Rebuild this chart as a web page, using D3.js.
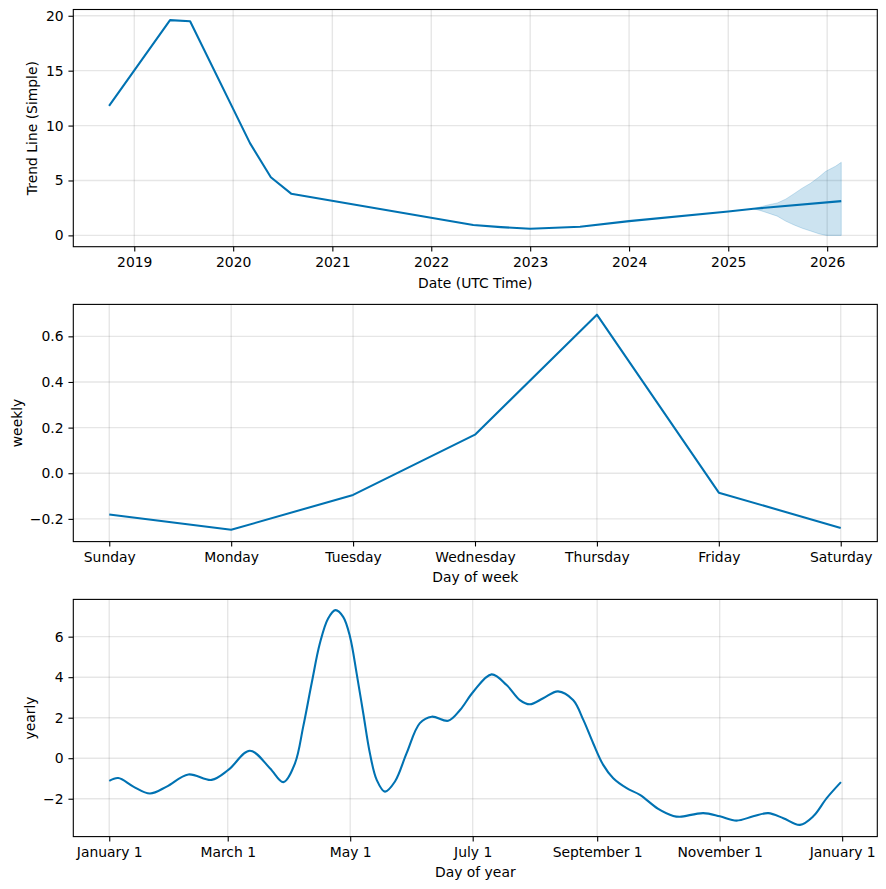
<!DOCTYPE html>
<html><head><meta charset="utf-8">
<script src="https://cdn.jsdelivr.net/npm/d3@7"></script>
<style>body{margin:0;background:#fff}svg{display:block}</style>
</head><body>
<script>
// ---- Data ----
const trendDates = ["2018-09-30","2019-05-13","2019-07-26","2020-03-03","2020-05-19","2020-08-02","2022-06-05","2022-09-15","2023-01-01","2023-07-04","2024-01-01","2025-01-01","2025-04-04","2026-02-22"];
const trendValues = [11.8, 19.6, 19.5, 8.4, 5.3, 3.8, 0.94, 0.75, 0.6, 0.78, 1.3, 2.18, 2.42, 3.12];

const bandDates = ["2025-04-04","2025-05-01","2025-06-01","2025-07-01","2025-08-01","2025-09-01","2025-10-01","2025-11-01","2025-12-01","2025-12-25","2026-01-01","2026-02-01","2026-02-22"];
const bandUpper = [2.42, 2.6, 2.8, 2.95, 3.3, 3.8, 4.3, 4.75, 5.3, 5.8, 5.9, 6.3, 6.65];
const bandLower = [2.42, 2.25, 2.0, 1.75, 1.3, 0.95, 0.65, 0.4, 0.15, 0.02, 0.0, 0.0, 0.0];

const yearTicks = ["2019","2020","2021","2022","2023","2024","2025","2026"];
const trendYTicks = [0, 5, 10, 15, 20];

const weekdays = ["Sunday","Monday","Tuesday","Wednesday","Thursday","Friday","Saturday"];
const weeklyValues = [-0.181, -0.248, -0.095, 0.169, 0.695, -0.085, -0.240];
const weeklyYTicks = [-0.2, 0.0, 0.2, 0.4, 0.6];

const yearlyDays = [0, 4.5, 12, 20.3, 28.6, 39.4, 51, 59.3, 70, 80, 86.7, 92.5, 96.6, 100.8, 104.9, 109, 112.7, 116.5, 119.9, 123.2, 126.5, 129.8, 133.2, 137.3, 142.3, 148.1, 154.7, 160.6, 168.8, 174.7, 181.3, 190.4, 197.9, 204.5, 209.5, 216.1, 223.5, 231, 236.1, 241, 246, 251, 257.7, 264.3, 273.4, 280.9, 284.2, 295.8, 304.1, 312.4, 320.7, 328.2, 335.7, 344, 350.6, 357.3, 364.4];
const yearlyValues = [-1.12, -0.98, -1.40, -1.74, -1.40, -0.80, -1.07, -0.58, 0.37, -0.49, -1.18, -0.25, 1.56, 3.70, 5.67, 6.9, 7.31, 6.98, 6.0, 4.19, 2.22, 0.25, -1.07, -1.65, -1.15, 0.25, 1.73, 2.05, 1.85, 2.38, 3.28, 4.14, 3.61, 2.87, 2.66, 2.96, 3.30, 2.87, 1.89, 0.74, -0.33, -0.99, -1.48, -1.81, -2.5, -2.85, -2.89, -2.71, -2.87, -3.08, -2.87, -2.71, -2.96, -3.29, -2.87, -1.97, -1.18];
const yearlyTickDays = [0, 59, 120, 181, 243, 304, 365];
const yearlyTickLabels = ["January 1","March 1","May 1","July 1","September 1","November 1","January 1"];
const yearlyYTicks = [-2, 0, 2, 4, 6];

// ---- Layout ----
const W = 886, H = 889;
const L = 73.3, R = 877.3;
const PH = 237.2;
const tops = [9.5, 304.4, 599.4];
const FS = 13.9;
const tickLen = 4.86, tickPad = 4.86;
const blue = "#0072B2";

const svg = d3.select("body").append("svg").attr("width", W).attr("height", H)
  .style("font-family", "'DejaVu Sans', sans-serif");

function drawPanel(top, x, y, xTickVals, xFmt, yTickVals, yFmt, xlabel, ylabel, ylabelX, drawData) {
  const g = svg.append("g");
  // grid
  g.append("g").selectAll("line").data(xTickVals).join("line")
    .attr("x1", d => x(d)).attr("x2", d => x(d)).attr("y1", top).attr("y2", top + PH)
    .attr("stroke", "#808080").attr("stroke-opacity", 0.2).attr("stroke-width", 1.39);
  g.append("g").selectAll("line").data(yTickVals).join("line")
    .attr("y1", d => y(d)).attr("y2", d => y(d)).attr("x1", L).attr("x2", R)
    .attr("stroke", "#808080").attr("stroke-opacity", 0.2).attr("stroke-width", 1.39);
  drawData(g);
  // axes
  const xa = g.append("g").attr("transform", `translate(0,${top + PH})`)
    .call(d3.axisBottom(x).tickValues(xTickVals).tickFormat(xFmt).tickSize(tickLen).tickPadding(tickPad + 1).tickSizeOuter(0));
  const ya = g.append("g").attr("transform", `translate(${L},0)`)
    .call(d3.axisLeft(y).tickValues(yTickVals).tickFormat(yFmt).tickSize(tickLen).tickPadding(tickPad).tickSizeOuter(0));
  [xa, ya].forEach(a => {
    a.select(".domain").remove();
    a.selectAll(".tick line").attr("stroke", "#000").attr("stroke-width", 1.1);
    a.selectAll(".tick text").attr("fill", "#000").style("font-size", FS + "px").style("font-family", "'DejaVu Sans', sans-serif");
  });
  // frame
  g.append("rect").attr("x", L).attr("y", top).attr("width", R - L).attr("height", PH)
    .attr("fill", "none").attr("stroke", "#000").attr("stroke-width", 1.1);
  // labels
  g.append("text").attr("x", (L + R) / 2).attr("y", top + PH + 36).attr("dy", "0.35em")
    .attr("text-anchor", "middle").style("font-size", FS + "px").text(xlabel);
  g.append("text").attr("transform", `translate(${ylabelX},${top + PH / 2}) rotate(-90)`)
    .attr("dy", "0.35em").attr("text-anchor", "middle").style("font-size", FS + "px").text(ylabel);
}

// ---- Panel 1: trend ----
{
  const parse = d3.utcParse("%Y-%m-%d");
  const x = d3.scaleUtc().domain([parse("2018-05-21"), parse("2026-07-05")]).range([L, R]);
  const y = d3.scaleLinear().domain([-1.03, 20.57]).range([tops[0] + PH, tops[0]]);
  const tickDates = yearTicks.map(s => parse(s + "-01-01"));
  drawPanel(tops[0], x, y, tickDates, d3.utcFormat("%Y"), trendYTicks, d3.format("d"),
    "Date (UTC Time)", "Trend Line (Simple)", 31.7, g => {
      const band = bandDates.map((d, i) => ({ d: parse(d), u: bandUpper[i], l: bandLower[i] }));
      g.append("path").datum(band)
        .attr("d", d3.area().x(p => x(p.d)).y0(p => y(p.l)).y1(p => y(p.u)))
        .attr("fill", blue).attr("fill-opacity", 0.2).attr("stroke", blue).attr("stroke-opacity", 0.2).attr("stroke-width", 1);
      const pts = trendDates.map((d, i) => ({ d: parse(d), v: trendValues[i] }));
      g.append("path").datum(pts)
        .attr("d", d3.line().x(p => x(p.d)).y(p => y(p.v)))
        .attr("fill", "none").attr("stroke", blue).attr("stroke-width", 2.08).attr("stroke-linejoin", "round");
    });
}

// ---- Panel 2: weekly ----
{
  const x = d3.scaleLinear().domain([-0.295, 6.3]).range([L, R]);
  const y = d3.scaleLinear().domain([-0.2996, 0.740]).range([tops[1] + PH, tops[1]]);
  drawPanel(tops[1], x, y, d3.range(7), i => weekdays[i], weeklyYTicks, d3.format(".1f"),
    "Day of week", "weekly", 16.7, g => {
      g.append("path").datum(weeklyValues)
        .attr("d", d3.line().x((v, i) => x(i)).y(v => y(v)))
        .attr("fill", "none").attr("stroke", blue).attr("stroke-width", 2.08).attr("stroke-linejoin", "round");
    });
}

// ---- Panel 3: yearly ----
{
  const x = d3.scaleLinear().domain([-17.9, 382.5]).range([L, R]);
  const y = d3.scaleLinear().domain([-3.87, 7.84]).range([tops[2] + PH, tops[2]]);
  drawPanel(tops[2], x, y, yearlyTickDays, (d, i) => yearlyTickLabels[i], yearlyYTicks, d3.format("d"),
    "Day of year", "yearly", 30, g => {
      const pts = yearlyDays.map((d, i) => [d, yearlyValues[i]]);
      g.append("path").datum(pts)
        .attr("d", d3.line().x(p => x(p[0])).y(p => y(p[1])).curve(d3.curveCatmullRom.alpha(0.5)))
        .attr("fill", "none").attr("stroke", blue).attr("stroke-width", 2.08).attr("stroke-linejoin", "round");
    });
}
</script>
</body></html>
